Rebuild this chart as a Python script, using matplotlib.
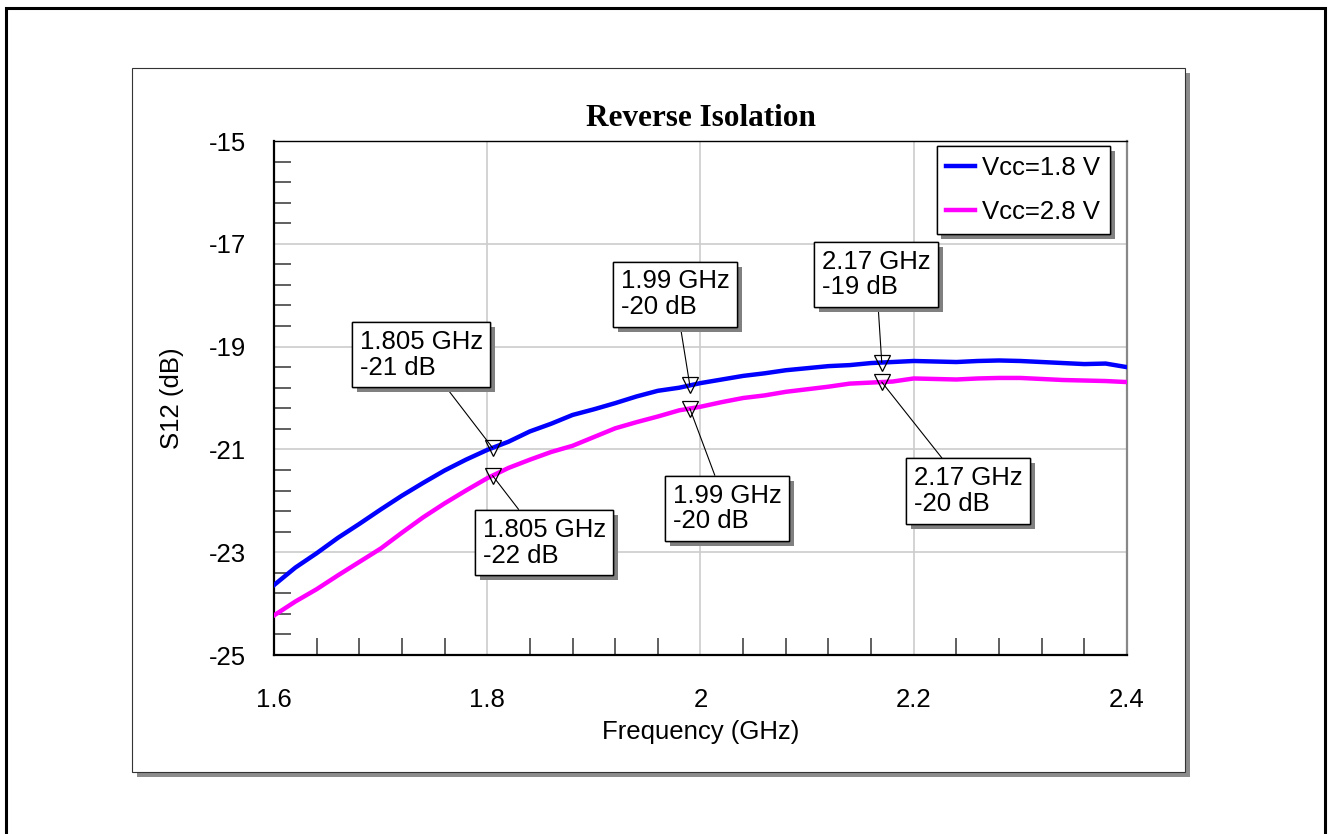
import numpy as np
import matplotlib
matplotlib.use('Agg')
import matplotlib.pyplot as plt
import matplotlib.patches as patches
import matplotlib.patheffects as pe

# ---- data ----
freq = [1.60, 1.62, 1.64, 1.66, 1.68, 1.70, 1.72, 1.74, 1.76, 1.78,
        1.80, 1.82, 1.84, 1.86, 1.88, 1.90, 1.92, 1.94, 1.96, 1.98,
        2.00, 2.02, 2.04, 2.06, 2.08, 2.10, 2.12, 2.14, 2.16, 2.18,
        2.20, 2.22, 2.24, 2.26, 2.28, 2.30, 2.32, 2.34, 2.36, 2.38, 2.40]

s12_18v = [-23.64, -23.30, -23.02, -22.72, -22.45, -22.17, -21.90, -21.65, -21.41, -21.20,
           -21.01, -20.85, -20.65, -20.50, -20.33, -20.22, -20.10, -19.97, -19.86, -19.80,
           -19.71, -19.64, -19.57, -19.52, -19.46, -19.42, -19.38, -19.36, -19.32, -19.30,
           -19.28, -19.29, -19.30, -19.28, -19.27, -19.28, -19.30, -19.32, -19.34, -19.33, -19.40]

s12_28v = [-24.23, -23.96, -23.72, -23.45, -23.19, -22.93, -22.62, -22.32, -22.05, -21.80,
           -21.56, -21.36, -21.20, -21.05, -20.93, -20.76, -20.59, -20.47, -20.36, -20.24,
           -20.17, -20.08, -20.00, -19.95, -19.88, -19.83, -19.78, -19.72, -19.70, -19.68,
           -19.62, -19.63, -19.64, -19.62, -19.61, -19.61, -19.63, -19.65, -19.66, -19.67, -19.69]

series_names = ['Vcc=1.8 V', 'Vcc=2.8 V']
series_colors = ['#0000ff', '#ff00ff']

marker_freqs = [1.805, 1.99, 2.17]
marker_db_18v = ['-21', '-20', '-19']
marker_db_28v = ['-22', '-20', '-20']

# label box top-left offsets from marker (pixels, y up) -- layout only
offs_18v = [(-141, 126), (-77, 124), (-68, 121)]
offs_28v = [(-18, -34), (-25, -67), (24, -76)]

W, H = 1333, 834
plt.rcParams['font.family'] = ['Liberation Sans', 'DejaVu Sans']
plt.rcParams['axes.unicode_minus'] = False
FS = 18.5

fig = plt.figure(figsize=(W / 100, H / 100), dpi=100)

def fx(px):
    return px / W

def fy(py):
    return 1 - py / H

# outer frame
fig.patches.append(patches.Rectangle((fx(6), fy(845)), fx(1325 - 6), (845 - 8) / H,
                                     transform=fig.transFigure, fill=False,
                                     edgecolor='black', lw=2.2, zorder=-3))
# panel shadow + panel
fig.patches.append(patches.Rectangle((fx(137), fy(777)), fx(1185 - 132), (772 - 68) / H,
                                     transform=fig.transFigure, facecolor='#8c8c8c',
                                     edgecolor='none', zorder=-2))
fig.patches.append(patches.Rectangle((fx(132), fy(772)), fx(1185 - 132), (772 - 68) / H,
                                     transform=fig.transFigure, facecolor='white',
                                     edgecolor='#333333', lw=0.8, zorder=-1))

ax = fig.add_axes([fx(274), fy(655), fx(1127 - 274), (655 - 141) / H])
ax.set_facecolor('white')

for vals, name, col in zip([s12_18v, s12_28v], series_names, series_colors):
    ax.plot(freq, vals, color=col, lw=3.2, label=name, zorder=3)

ax.set_xlim(1.6, 2.4)
ax.set_ylim(-25, -15)
ax.set_xticks(np.arange(1.6, 2.401, 0.2))
ax.set_xticklabels(['1.6', '1.8', '2', '2.2', '2.4'])
ax.set_xticks(np.arange(1.6, 2.401, 0.04), minor=True)
ax.set_yticks(np.arange(-25, -14.9, 2))
ax.set_yticklabels(['-25', '-23', '-21', '-19', '-17', '-15'])
ax.set_yticks(np.arange(-25, -14.9, 0.4), minor=True)
ax.tick_params(which='major', length=0, labelsize=FS)
ax.tick_params(axis='y', which='major', pad=20)
ax.tick_params(axis='x', which='major', pad=24)
ax.tick_params(which='minor', direction='in', length=12, width=1.2, color='#444444')
ax.tick_params(axis='y', which='minor', left=True, right=False)
ax.tick_params(axis='x', which='minor', bottom=True, top=False)
ax.grid(which='major', color='#cccccc', lw=1.2, zorder=1)
ax.set_axisbelow(True)

ax.spines['left'].set_linewidth(1.6)
ax.spines['bottom'].set_linewidth(1.6)
ax.spines['top'].set_linewidth(1.0)
ax.spines['right'].set_color('#888888')
ax.spines['right'].set_linewidth(1.6)

ax.set_title('Reverse Isolation', fontsize=22.5, fontweight='bold',
             family=['Liberation Serif', 'DejaVu Serif'], y=1 + 22 / 514, va='center', pad=0)
ax.set_xlabel('Frequency (GHz)', fontsize=FS)
ax.xaxis.set_label_coords(0.5, (655 - 732) / 514)
ax.xaxis.label.set_verticalalignment('center')
ax.set_ylabel('S12 (dB)', fontsize=FS)
ax.yaxis.set_label_coords((172 - 274) / 853, 0.5)
ax.yaxis.label.set_verticalalignment('center')

leg = ax.legend(loc='upper right', bbox_to_anchor=(fx(1110), fy(146)),
                bbox_transform=fig.transFigure, fontsize=FS, frameon=True,
                fancybox=False, framealpha=1, edgecolor='black',
                handlelength=1.1, handletextpad=0.3, labelspacing=0.8,
                borderpad=0.38, borderaxespad=0)
leg.get_frame().set_linewidth(1.0)
leg.get_frame().set_path_effects([pe.withSimplePatchShadow(offset=(3.5, -3.5),
                                  shadow_rgbFace='#808080', alpha=1.0), pe.Normal()])
leg.set_zorder(6)

pad_px = 8
for vals, dbs, offs in [(s12_18v, marker_db_18v, offs_18v), (s12_28v, marker_db_28v, offs_28v)]:
    ys = np.interp(marker_freqs, freq, vals)
    ax.plot(marker_freqs, ys, linestyle='none', marker='v', markersize=11,
            markerfacecolor='none', markeredgecolor='black', markeredgewidth=0.9, zorder=4)
    for f, y, db, (dx, dy) in zip(marker_freqs, ys, dbs, offs):
        ann = ax.annotate('{} GHz\n{} dB'.format(f, db), xy=(f, y),
                          xytext=(dx + pad_px, dy - pad_px), textcoords='offset pixels',
                          ha='left', va='top', fontsize=FS, linespacing=1.1,
                          bbox=dict(boxstyle='square,pad=0.3', facecolor='white',
                                    edgecolor='black', lw=1.0),
                          arrowprops=dict(arrowstyle='-', color='black', lw=0.8,
                                          shrinkA=0, shrinkB=0),
                          zorder=5)
        ann.get_bbox_patch().set_path_effects([pe.withSimplePatchShadow(offset=(3.5, -3.5),
                                               shadow_rgbFace='#808080', alpha=1.0), pe.Normal()])

plt.savefig('out.png', dpi=100)
